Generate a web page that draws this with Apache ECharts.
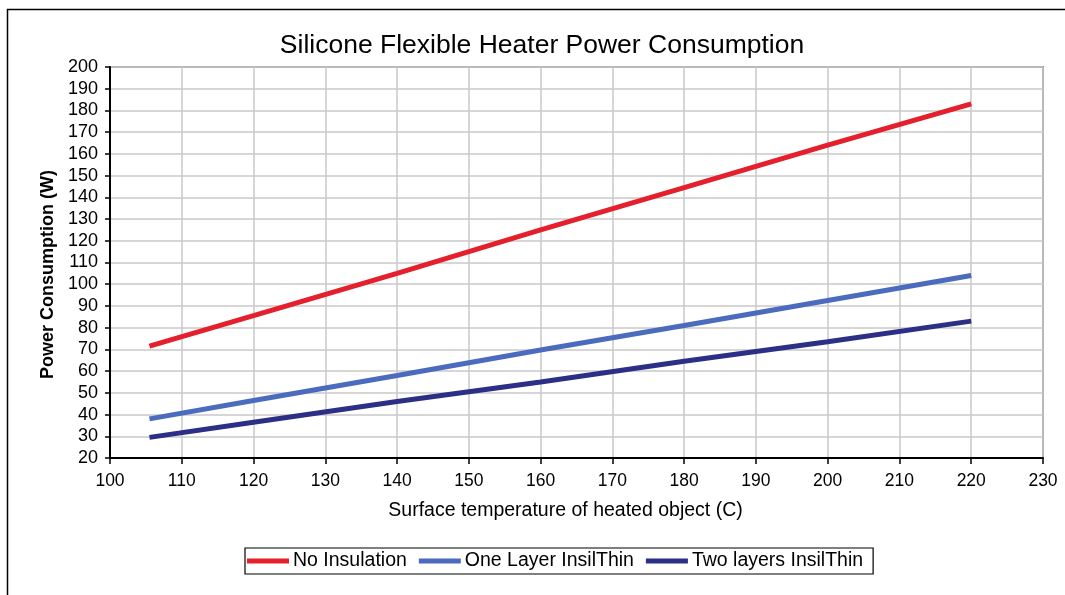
<!DOCTYPE html>
<html>
<head>
<meta charset="utf-8">
<script src="https://cdn.jsdelivr.net/npm/echarts@6/dist/echarts.min.js"></script>
<style>html,body{margin:0;padding:0;background:#fff;}#c{width:1065px;height:595px;}</style>
</head>
<body>
<div id="c"></div>
<script>
const temps = [105.5, 120, 140, 160, 180, 200, 220];
const noInsulation = [71.5, 85.5, 105, 125, 144.5, 164, 183];
const oneLayer = [38, 46.5, 58, 69.7, 81, 92.5, 104];
const twoLayers = [29.5, 36.5, 46, 55, 64.5, 73.5, 83];
const seriesNames = ['No Insulation', 'One Layer InsilThin', 'Two layers InsilThin'];
const colors = ['#E3202B', '#4A6BBE', '#2B2F86'];

const pair = (ys) => temps.map((t, i) => [t, ys[i]]);
const font = 'Liberation Sans, Arial, sans-serif';

const chart = echarts.init(document.getElementById('c'));
chart.setOption({
  animation: false,
  backgroundColor: '#fff',
  title: {
    text: 'Silicone Flexible Heater Power Consumption',
    left: 537, top: 27, textAlign: 'center',
    textStyle: { fontFamily: font, fontSize: 26.5, fontWeight: 'normal', color: '#000' }
  },
  graphic: [{
    type: 'rect', shape: { x: 7.5, y: 9.5, width: 1200, height: 800 },
    style: { fill: 'none', stroke: '#000', lineWidth: 1.5 }, silent: true, z: -1
  }],
  legend: {
    data: seriesNames,
    bottom: 21, left: 245,
    icon: 'rect', itemWidth: 42, itemHeight: 5, itemGap: 12,
    borderColor: '#000', borderWidth: 1.2, padding: [3, 10, 3, 2],
    textStyle: { fontFamily: font, fontSize: 19.5, color: '#000', padding: [0, 0, 0, -1] }
  },
  grid: {
    left: 110, right: 22, top: 67, bottom: 137,
    show: true, borderColor: '#8a8a8a', borderWidth: 2
  },
  xAxis: {
    type: 'value', min: 100, max: 230, interval: 10,
    name: 'Surface temperature of heated object (C)', nameLocation: 'middle', nameGap: 43,
    nameTextStyle: { fontFamily: font, fontSize: 19.5, color: '#000', padding: [0, 22, 0, 0] },
    axisLine: { show: true, lineStyle: { color: '#000', width: 2 } },
    axisTick: { show: true, length: 6, lineStyle: { color: '#000', width: 1.5 } },
    axisLabel: { fontFamily: font, fontSize: 17.5, color: '#000', margin: 14 },
    splitLine: { show: true, lineStyle: { color: '#c8c8c8', width: 1.5 } }
  },
  yAxis: {
    type: 'value', min: 20, max: 200, interval: 10,
    name: 'Power Consumption (W)', nameLocation: 'middle', nameGap: 50,
    nameTextStyle: { fontFamily: font, fontSize: 18, fontWeight: 'bold', color: '#000', padding: [0, 24, 0, 0] },
    axisLine: { show: true, lineStyle: { color: '#000', width: 2 } },
    axisTick: { show: true, length: 5, lineStyle: { color: '#000', width: 1.5 } },
    axisLabel: { fontFamily: font, fontSize: 18, color: '#000', margin: 12 },
    splitLine: { show: true, lineStyle: { color: '#c8c8c8', width: 1.5 } }
  },
  series: [
    { name: seriesNames[0], type: 'line', data: pair(noInsulation), showSymbol: false, color: colors[0], lineStyle: { width: 5 } },
    { name: seriesNames[1], type: 'line', data: pair(oneLayer), showSymbol: false, color: colors[1], lineStyle: { width: 5 } },
    { name: seriesNames[2], type: 'line', data: pair(twoLayers), showSymbol: false, color: colors[2], lineStyle: { width: 5 } }
  ]
});
</script>
</body>
</html>
